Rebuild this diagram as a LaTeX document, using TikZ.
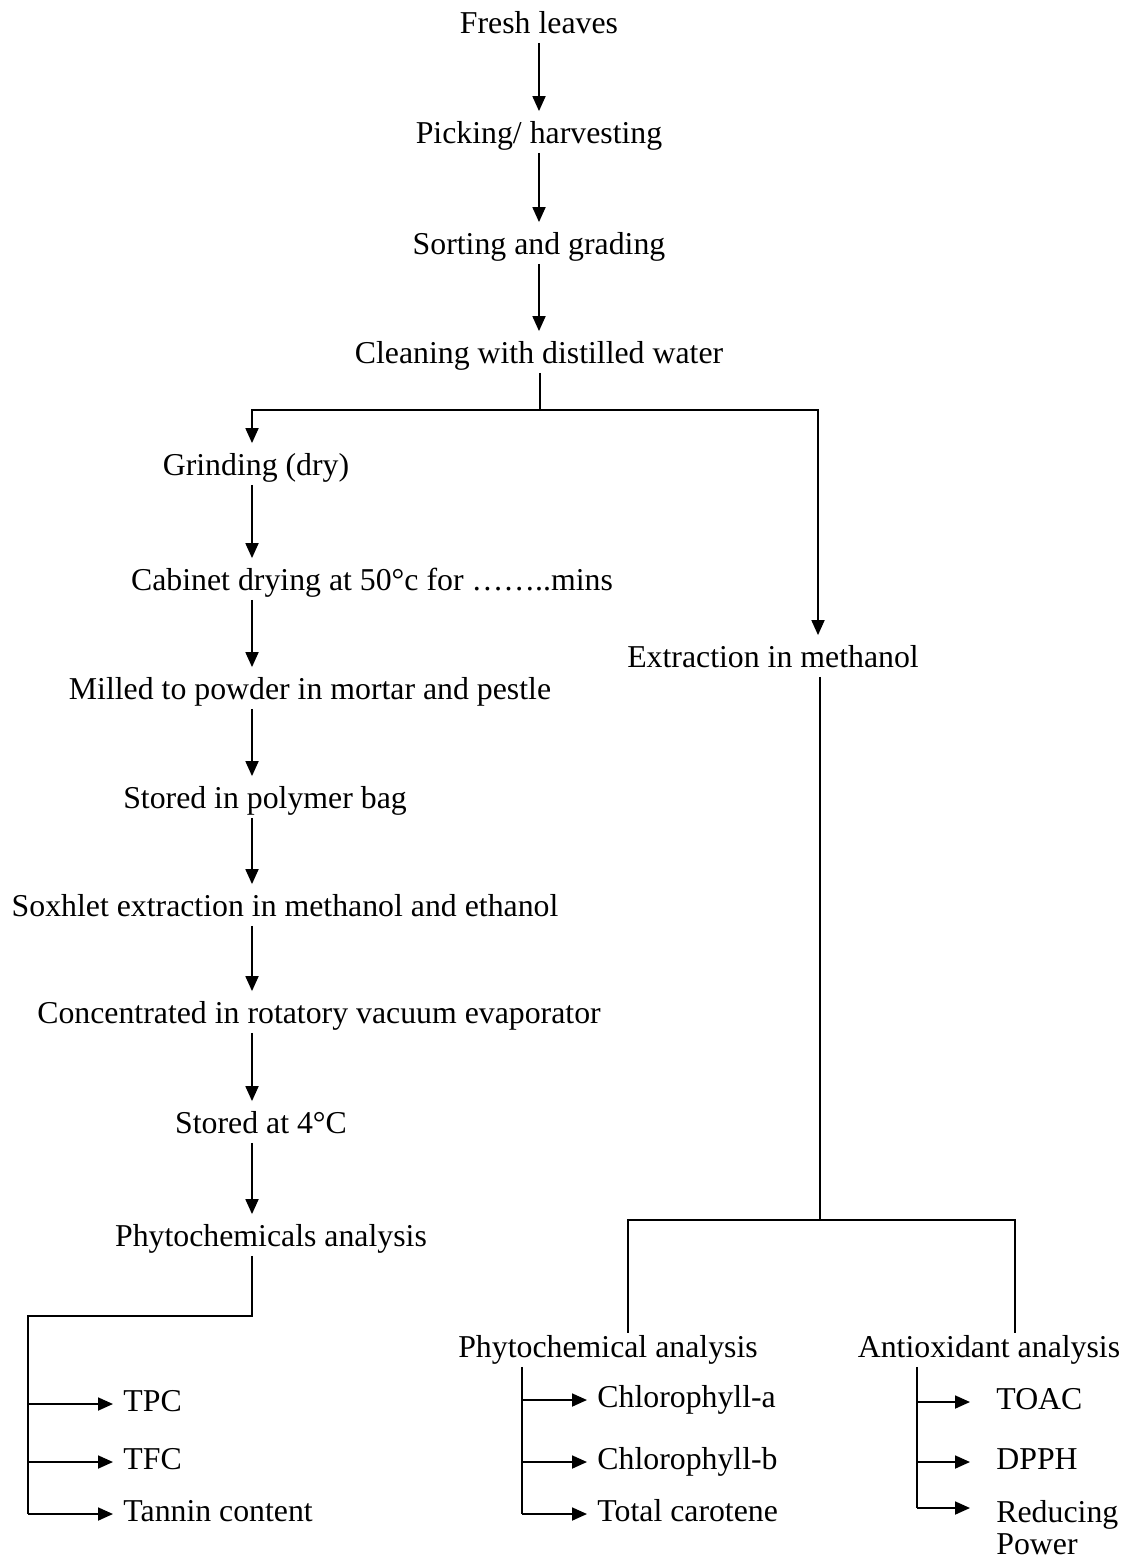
\documentclass[tikz,border=0pt]{standalone}
\usepackage{fontspec}
\setmainfont{Liberation Serif}
\usetikzlibrary{arrows.meta,positioning}

\tikzset{
  plain label/.style={inner sep=1pt, font=\fontsize{15.9}{16}\selectfont},
  step label/.style={plain label, text height=11pt, text depth=3.5pt},
  flow/.style={line width=0.9pt, -{Triangle[length=7.5pt,width=6.5pt]}, shorten >=4pt},
  link/.style={line width=0.9pt}
}

\begin{document}
\begin{tikzpicture}[x=0.5pt, y=-0.5pt]
            \useasboundingbox (0,0) rectangle (1131,1566);

            % Colonne dei connettori
            \coordinate (lspine) at (252,0);
            \coordinate (rspine) at (818,0);
            \coordinate (split1) at (540,410);
            \coordinate (split2) at (820,1220);
            \coordinate (lbus) at (28,1316);
            \coordinate (pcol) at (628,0);
            \coordinate (acol) at (1015,0);
            \coordinate (mbus) at (522,0);
            \coordinate (abus) at (917,0);

            % Fasi iniziali
            \node[step label] (fresh) at (539,26) {Fresh leaves};
            \node[step label] (pick) at (539,136) {Picking/ harvesting};
            \node[step label] (sort) at (539,247) {Sorting and grading};
            \node[step label] (clean) at (539,356) {Cleaning with distilled water};

            % Ramo sinistro
            \node[step label] (grind) at (256,468) {Grinding (dry)};
            \node[step label] (cabin) at (372,583) {Cabinet drying at 50°c for ……..mins};
            \node[step label] (mill) at (310,692) {Milled to powder in mortar and pestle};
            \node[step label] (bag) at (265,801) {Stored in polymer bag};
            \node[step label] (soxh) at (285,909) {Soxhlet extraction in methanol and ethanol};
            \node[step label] (conc) at (319,1016) {Concentrated in rotatory vacuum evaporator};
            \node[step label] (cold) at (261,1126) {Stored at 4°C};
            \node[step label] (phyl) at (271,1239) {Phytochemicals analysis};
            \node[step label, anchor=west] (tpc) at (121,1404) {TPC};
            \node[step label, anchor=west] (tfc) at (121,1462) {TFC};
            \node[step label, anchor=west] (tan) at (121,1514) {Tannin content};

            % Ramo destro
            \node[step label] (extract) at (773,660) {Extraction in methanol};
            \node[step label] (phyr) at (608,1350) {Phytochemical analysis};
            \node[step label] (anti) at (989,1350) {Antioxidant analysis};
            \node[step label, anchor=west] (chla) at (595,1400) {Chlorophyll-a};
            \node[step label, anchor=west] (chlb) at (595,1462) {Chlorophyll-b};
            \node[step label, anchor=west] (carot) at (595,1514) {Total carotene};
            \node[step label, anchor=west] (toac) at (994,1402) {TOAC};
            \node[step label, anchor=west] (dpph) at (994,1462) {DPPH};
            \node[plain label, anchor=north west, align=left] (redpow) at (994,1498) {Reducing\\Power};
            \coordinate (abot) at (917,1508);

            % Frecce principali
            \draw[flow] (fresh) -- (pick);
            \draw[flow] (pick) -- (sort);
            \draw[flow] (sort) -- (clean);
            \draw[link] (clean.south -| split1) -- (split1);
            \draw[flow] (split1) -| (grind.north -| lspine);
            \draw[flow] (split1) -| (extract.north -| rspine);

            % Sequenza a sinistra
            \draw[flow] (grind.south -| lspine) -- (cabin.north -| lspine);
            \draw[flow] (cabin.south -| lspine) -- (mill.north -| lspine);
            \draw[flow] (mill.south -| lspine) -- (bag.north -| lspine);
            \draw[flow] (bag.south -| lspine) -- (soxh.north -| lspine);
            \draw[flow] (soxh.south -| lspine) -- (conc.north -| lspine);
            \draw[flow] (conc.south -| lspine) -- (cold.north -| lspine);
            \draw[flow] (cold.south -| lspine) -- (phyl.north -| lspine);
            \draw[link] (phyl.south -| lspine) |- (lbus) -- (lbus |- tan.west);
            \draw[flow] (lbus |- tpc.west) -- (tpc.west);
            \draw[flow] (lbus |- tfc.west) -- (tfc.west);
            \draw[flow] (lbus |- tan.west) -- (tan.west);

            % Sequenza a destra
            \draw[link] (extract.south -| split2) -- (split2);
            \draw[link] (split2) -| (phyr.north -| pcol);
            \draw[link] (split2) -| (anti.north -| acol);
            \draw[link] (phyr.south -| mbus) -- (mbus |- carot.west);
            \draw[flow] (mbus |- chla.west) -- (chla.west);
            \draw[flow] (mbus |- chlb.west) -- (chlb.west);
            \draw[flow] (mbus |- carot.west) -- (carot.west);
            \draw[link] (anti.south -| abus) -- (abot);
            \draw[flow, shorten >=12pt] (abus |- toac.west) -- (toac.west);
            \draw[flow, shorten >=12pt] (abus |- dpph.west) -- (dpph.west);
            \draw[flow, shorten >=12pt] (abot) -- (abot -| redpow.west);
        \end{tikzpicture}
\end{document}
